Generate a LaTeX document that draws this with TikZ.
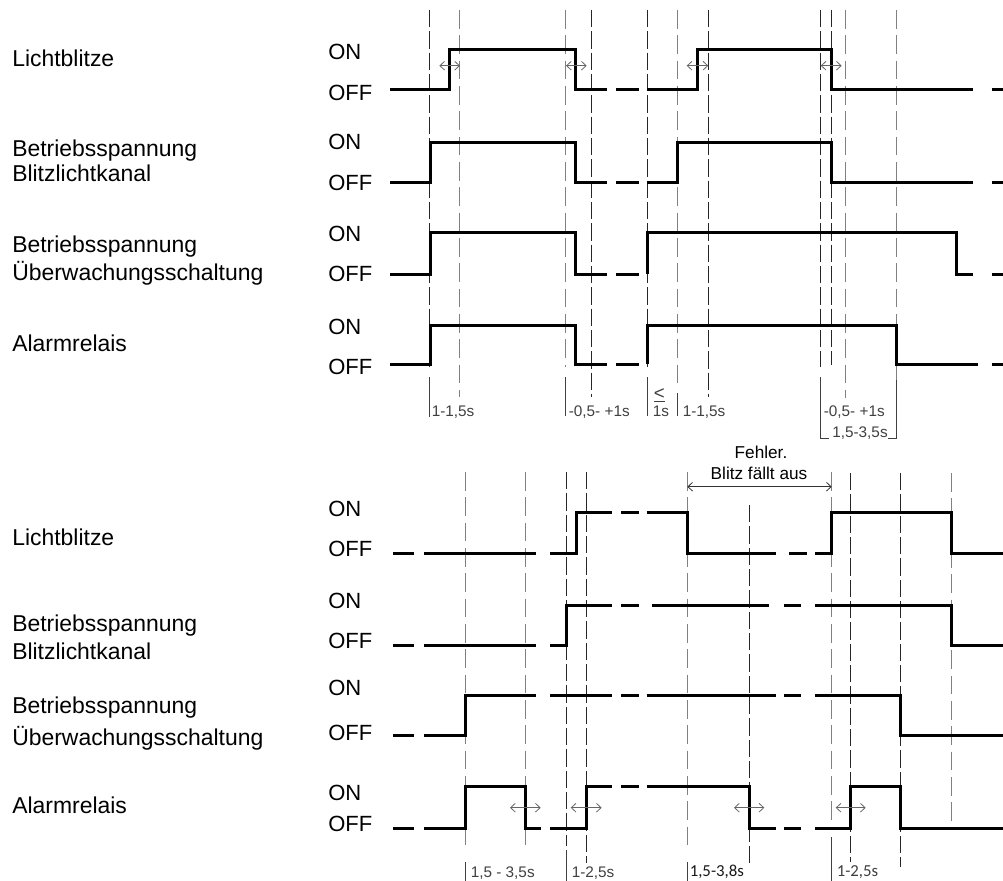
\documentclass[tikz,border=0pt]{standalone}
\usepackage{fontspec}
\setmainfont{Liberation Sans}
\newfontfamily\carl{Carlito}
\usetikzlibrary{arrows.meta}
\begin{document}
\begin{tikzpicture}[x=0.75pt,y=-0.75pt,
  sig/.style={line width=2.25pt, line cap=butt, black},
  vdark/.style={line width=0.75pt, black!85, dash pattern=on 13pt off 3pt},
  vgray/.style={line width=0.75pt, black!50, dash pattern=on 14pt off 5pt},
  tick/.style={line width=0.75pt, black!75},
  dim/.style={line width=0.6pt, black!60, {Straight Barb[length=3.5pt,width=6.5pt]}-{Straight Barb[length=3.5pt,width=6.5pt]}},
  big/.style={font=\fontsize{17.2}{19}\selectfont, inner sep=0pt, anchor=base west},
  onoff/.style={font=\fontsize{16.5}{19}\selectfont, inner sep=0pt, anchor=base west},
  small/.style={font=\fontsize{11.5}{13}\selectfont, inner sep=0pt, anchor=base west, text=black!75},
  carlsmall/.style={font=\carl\fontsize{12.6}{14}\selectfont, inner sep=0pt, anchor=base west},
  fehl/.style={font=\fontsize{12.9}{15}\selectfont, inner sep=0pt, anchor=base},
]
\useasboundingbox[fill=white] (0,0) rectangle (1003,881);

% ---------------- left labels (top) ----------------
\node[big] (n1) at (12,66.7) {Lichtblitze};
\node[big] (n2a) at (12,156.7) {Betriebsspannung};
\node[big] (n2b) at (12,181.7) {Blitzlichtkanal};
\node[big] (n3a) at (12,252.7) {Betriebsspannung};
\node[big] (n3b) at (12,280) {Überwachungsschaltung};
\node[big] (n4) at (12,351.7) {Alarmrelais};
\node[onoff] (on1) at (328,59.3) {ON};   \node[onoff] (off1) at (328,100) {OFF};
\node[onoff] (on2) at (328,149.3) {ON};  \node[onoff] (off2) at (328,190) {OFF};
\node[onoff] (on3) at (328,241.7) {ON};  \node[onoff] (off3) at (328,281) {OFF};
\node[onoff] (on4) at (328,334) {ON};    \node[onoff] (off4) at (328,374.3) {OFF};

% ---------------- left labels (bottom) ----------------
\node[big] (m1) at (12,545) {Lichtblitze};
\node[big] (m2a) at (12,631.7) {Betriebsspannung};
\node[big] (m2b) at (12,659.3) {Blitzlichtkanal};
\node[big] (m3a) at (12,713.3) {Betriebsspannung};
\node[big] (m3b) at (12,745) {Überwachungsschaltung};
\node[big] (m4) at (12,813.3) {Alarmrelais};
\node[onoff] (on5) at (328,516.7) {ON};  \node[onoff] (off5) at (328,556.7) {OFF};
\node[onoff] (on6) at (328,608.3) {ON};  \node[onoff] (off6) at (328,648.3) {OFF};
\node[onoff] (on7) at (328,695) {ON};    \node[onoff] (off7) at (328,740) {OFF};
\node[onoff] (on8) at (328,800) {ON};    \node[onoff] (off8) at (328,831.7) {OFF};

% ---------------- vertical guide lines (top) ----------------
\draw[vdark] (429.3,10) -- (429.3,367);
\draw[vgray] (459.3,10) -- (459.3,397);
\draw[vgray] (565.7,10) -- (565.7,367);
\draw[vdark] (591,10) -- (591,397);
\draw[vdark] (647.3,10) -- (647.3,367);
\draw[vgray] (677.7,10) -- (677.7,390);
\draw[vdark] (708.3,10) -- (708.3,397);
\draw[vdark] (820.3,10) -- (820.3,367);
\draw[vdark] (831,10) -- (831,365);
\draw[vgray] (845.7,10) -- (845.7,398);
\draw[vgray] (896,10) -- (896,380);
% ticks of the time labels (top)
\draw[tick] (429.3,377) -- (429.3,417);
\draw[tick] (565.7,377) -- (565.7,416);
\draw[tick] (647.3,377) -- (647.3,416);
\draw[tick] (677.7,393) -- (677.7,416);
\draw[tick] (820.3,377) -- (820.3,438) -- (829,438);
\draw[tick] (896,380) -- (896,438) -- (888,438);

% ---------------- vertical guide lines (bottom) ----------------
\draw[vgray] (465,472) -- (465,846);
\draw[vgray] (525.7,472) -- (525.7,850);
\draw[vdark] (566,472) -- (566,846);
\draw[vdark] (586.7,472) -- (586.7,863);
\draw[vgray] (687.3,472) -- (687.3,846);
\draw[vdark] (749.3,505) -- (749.3,863);
\draw[vgray] (831.7,472) -- (831.7,826);
\draw[vdark] (850.7,473) -- (850.7,862);
\draw[vdark] (900.7,473) -- (900.7,867);
\draw[vgray] (951.7,473) -- (951.7,827);
% ticks (bottom)
\draw[tick] (465,862) -- (465,881);
\draw[tick] (566,850) -- (566,881);
\draw[tick] (687.3,862) -- (687.3,881);
\draw[tick] (831.7,837) -- (831.7,881);

% ---------------- signals (top) ----------------
% Lichtblitze
\draw[sig] (390,90) -- (449.3,90) -- (449.3,50) -- (575.7,50) -- (575.7,90) -- (606.7,90);
\draw[sig] (616,90) -- (638.7,90);
\draw[sig] (647.3,90) -- (697.7,90) -- (697.7,50) -- (831,50) -- (831,90) -- (973.3,90);
\draw[sig] (991.7,90) -- (1003,90);
% Blitzlichtkanal
\draw[sig] (390,182.3) -- (430,182.3) -- (430,142.3) -- (575.7,142.3) -- (575.7,182.3) -- (606.7,182.3);
\draw[sig] (616,182.3) -- (638.7,182.3);
\draw[sig] (647.3,182.3) -- (677.7,182.3) -- (677.7,142.3) -- (831,142.3) -- (831,182.3) -- (973.3,182.3);
\draw[sig] (991.7,182.3) -- (1003,182.3);
% Ueberwachungsschaltung
\draw[sig] (390,274) -- (430,274) -- (430,232.3) -- (575.7,232.3) -- (575.7,274) -- (606.7,274);
\draw[sig] (616,274) -- (638.7,274);
\draw[sig] (647.3,274) -- (647.3,232.3) -- (956,232.3) -- (956,274) -- (973.3,274);
\draw[sig] (991.7,274) -- (1003,274);
% Alarmrelais
\draw[sig] (390,364.3) -- (430,364.3) -- (430,325) -- (575.7,325) -- (575.7,364.3) -- (606.7,364.3);
\draw[sig] (616,364.3) -- (638.7,364.3);
\draw[sig] (647.3,364.3) -- (647.3,325) -- (896,325) -- (896,364.3) -- (977.7,364.3);
\draw[sig] (991.7,364.3) -- (1003,364.3);

% ---------------- signals (bottom) ----------------
% Lichtblitze
\draw[sig] (393.3,553.3) -- (414.3,553.3);
\draw[sig] (424.3,553.3) -- (536,553.3);
\draw[sig] (550,553.3) -- (576,553.3) -- (576,512.3) -- (612.3,512.3);
\draw[sig] (621,512.3) -- (638.7,512.3);
\draw[sig] (646.7,512.3) -- (687.3,512.3) -- (687.3,553.3) -- (776,553.3);
\draw[sig] (789.3,553.3) -- (806.7,553.3);
\draw[sig] (815,553.3) -- (831,553.3) -- (831,512.3) -- (951.7,512.3) -- (951.7,553.3) -- (1003,553.3);
% Blitzlichtkanal
\draw[sig] (393.3,645.7) -- (414.3,645.7);
\draw[sig] (424.3,645.7) -- (536,645.7);
\draw[sig] (550,645.7) -- (566,645.7) -- (566,605) -- (612.3,605);
\draw[sig] (621,605) -- (638.7,605);
\draw[sig] (651.7,605) -- (769.3,605);
\draw[sig] (784.3,605) -- (801,605);
\draw[sig] (815,605) -- (951.7,605) -- (951.7,645.7) -- (1003,645.7);
% Ueberwachungsschaltung
\draw[sig] (393.3,735.7) -- (414.3,735.7);
\draw[sig] (424.3,735.7) -- (465,735.7) -- (465,695.7) -- (536,695.7);
\draw[sig] (550,695.7) -- (612.3,695.7);
\draw[sig] (621,695.7) -- (638.7,695.7);
\draw[sig] (646.7,695.7) -- (776,695.7);
\draw[sig] (784.3,695.7) -- (800.7,695.7);
\draw[sig] (815,695.7) -- (900.7,695.7) -- (900.7,735.7) -- (1003,735.7);
% Alarmrelais
\draw[sig] (393.3,828.3) -- (414.3,828.3);
\draw[sig] (424.3,828.3) -- (465,828.3) -- (465,786.7) -- (525.7,786.7) -- (525.7,828.3) -- (541,828.3);
\draw[sig] (550,828.3) -- (586.7,828.3) -- (586.7,786.7) -- (612.3,786.7);
\draw[sig] (621,786.7) -- (638.7,786.7);
\draw[sig] (646.7,786.7) -- (749.3,786.7) -- (749.3,828.3) -- (776,828.3);
\draw[sig] (784.3,828.3) -- (800.7,828.3);
\draw[sig] (815,828.3) -- (850.7,828.3) -- (850.7,786.7) -- (900.7,786.7) -- (900.7,828.3) -- (1003,828.3);

% ---------------- tolerance arrows ----------------
\coordinate (a1l) at (439.3,65.7); \coordinate (a1r) at (460,65.7);
\coordinate (a2l) at (566,65.7);   \coordinate (a2r) at (586.7,65.7);
\coordinate (a3l) at (686.7,65.7); \coordinate (a3r) at (708.3,65.7);
\coordinate (a4l) at (820.7,65.7); \coordinate (a4r) at (841.7,65.7);
\draw[dim] (a1l) -- (a1r);
\draw[dim] (a2l) -- (a2r);
\draw[dim] (a3l) -- (a3r);
\draw[dim] (a4l) -- (a4r);
\coordinate (b1l) at (510,807.7);   \coordinate (b1r) at (540.7,807.7);
\coordinate (b2l) at (570.7,807.7); \coordinate (b2r) at (601.7,807.7);
\coordinate (b3l) at (734,807.7);   \coordinate (b3r) at (764.3,807.7);
\coordinate (b4l) at (835.7,807.7); \coordinate (b4r) at (865.7,807.7);
\draw[dim] (b1l) -- (b1r);
\draw[dim] (b2l) -- (b2r);
\draw[dim] (b3l) -- (b3r);
\draw[dim] (b4l) -- (b4r);
\coordinate (fl) at (687.3,486.7); \coordinate (fr) at (831.7,486.7);
\draw[dim, black!80] (fl) -- (fr);
\node[fehl] (f1) at (761,458.3) {Fehler.};
\node[fehl] (f2) at (759,479.3) {Blitz fällt aus};

% ---------------- time labels (top) ----------------
\node[small, font=\fontsize{14}{15}\selectfont] (t3a) at (653.5,399) {\underline{<}};
\node[small] (t1) at (431.5,416.7) {1-1,5s};
\node[small] (t2) at (568.5,416.7) {-0,5- +1s};
\node[small] (t3b) at (652.5,416.7) {1s};
\node[small] (t4) at (682.5,416.7) {1-1,5s};
\node[small] (t5) at (823.5,416.7) {-0,5- +1s};
\node[small] (t6) at (832,437) {1,5-3,5s};

% ---------------- time labels (bottom) ----------------
\node[small] (u1) at (470.5,877.5) {1,5 - 3,5s};
\node[small] (u2) at (571.5,877.5) {1-2,5s};
\node[carlsmall, text=black!90] (u3) at (689.5,876.5) {1,5-3,8s};
\node[carlsmall, text=black!75] (u4) at (836.5,876.5) {1-2,5s};
\end{tikzpicture}
\end{document}
